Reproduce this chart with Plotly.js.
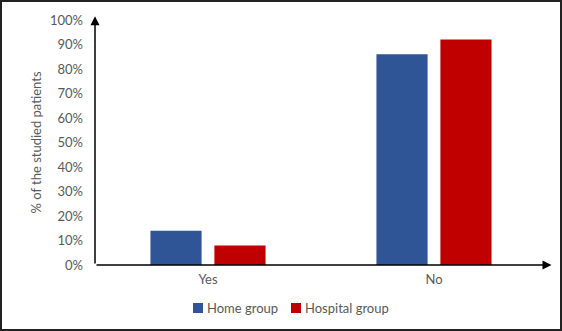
<!DOCTYPE html>
<html><head><meta charset="utf-8">
<script src="https://cdn.plot.ly/plotly-3.0.1.min.js"></script>
<style>
html,body{margin:0;padding:0;background:#fff;}
#chart{width:558px;height:327px;border:2px solid #222;}
</style></head>
<body><div id="chart"></div>
<script>
const categories = ["Yes", "No"];
const homeGroup = [14, 86];
const hospitalGroup = [8, 92];
const seriesNames = ["Home group", "Hospital group"];
const seriesColors = ["#2F5597", "#C00000"];
const yTicks = [0,10,20,30,40,50,60,70,80,90,100];
const yTickLabels = yTicks.map(v => v + "%");

const font = "Lato, 'Open Sans', sans-serif";
const txt = "#595959";
const data = [
  {type:"bar", name:seriesNames[0], x:categories, y:homeGroup, marker:{color:seriesColors[0]}, showlegend:false},
  {type:"bar", name:seriesNames[1], x:categories, y:hospitalGroup, marker:{color:seriesColors[1]}, showlegend:false}
];
// manual legend (compact squares like the reference)
const legX = [0.2168, 0.4336];
const shapes = seriesNames.map((n,i) => ({type:"rect", xref:"paper", yref:"paper",
  x0:legX[i], x1:legX[i]+0.0221, y0:-0.196, y1:-0.155, fillcolor:seriesColors[i], line:{width:0}}));
const legendText = seriesNames.map((n,i) => ({xref:"paper", yref:"paper", x:legX[i]+0.0255, y:-0.1755,
  xanchor:"left", yanchor:"middle", text:n, showarrow:false, font:{size:13, color:txt, family:font}}));

const layout = {
  width:558, height:327,
  margin:{l:93, r:13, t:18, b:64, autoexpand:false},
  paper_bgcolor:"#fff", plot_bgcolor:"#fff",
  barmode:"group", bargap:0.434, bargroupgap:0.2,
  font:{family:font, color:txt, size:13},
  xaxis:{range:[-0.5,1.5], showline:false, showgrid:false, zeroline:false, ticks:"", ticklabelstandoff:5, tickfont:{size:13, color:txt}},
  yaxis:{range:[0,100], tickvals:yTicks, ticktext:yTickLabels, showline:false, showgrid:false, zeroline:false, ticks:"", ticklabelstandoff:11, tickfont:{size:13, color:txt},
    title:{text:"% of the studied patients", standoff:5, font:{size:13, color:txt}}},
  showlegend:false,
  shapes:shapes,
  annotations:[
    {xref:"x", yref:"y", axref:"x", ayref:"y", x:categories.length-0.48, y:0, ax:-0.5, ay:0, showarrow:true, arrowhead:2, arrowsize:1.2, arrowwidth:1.5, arrowcolor:"#000", text:""},
    {xref:"x", yref:"y", axref:"x", ayref:"y", x:-0.5, y:101.5, ax:-0.5, ay:0, showarrow:true, arrowhead:2, arrowsize:1.2, arrowwidth:1.5, arrowcolor:"#000", text:""}
  ].concat(legendText)
};
Plotly.newPlot("chart", data, layout, {displayModeBar:false, staticPlot:true});
</script></body></html>
